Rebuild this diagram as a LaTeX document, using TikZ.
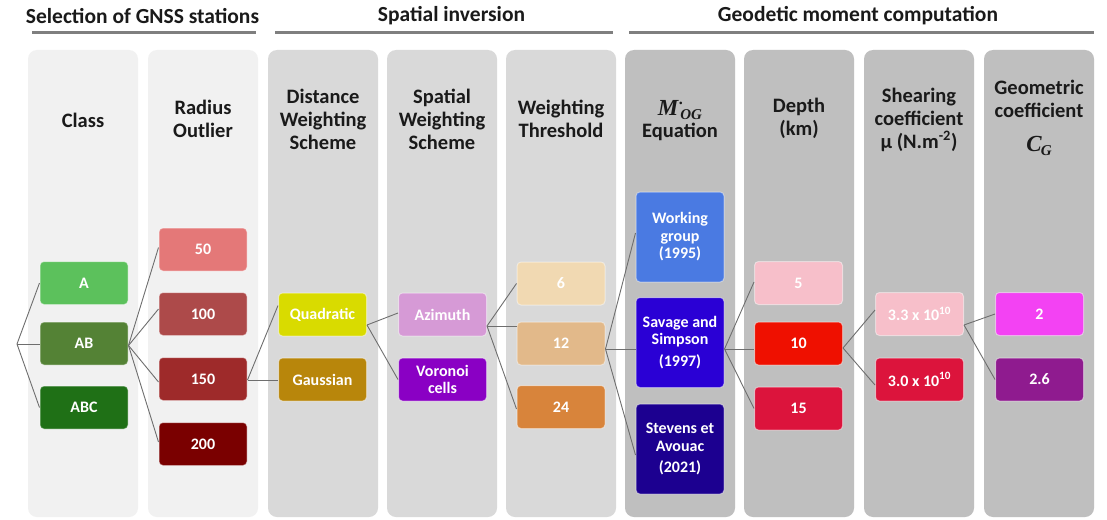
\documentclass[tikz,border=0pt]{standalone}
\usepackage{fontspec}
\setmainfont{Carlito}
\newfontfamily\mserif{Liberation Serif}
\definecolor{pl}{HTML}{F1F1F1}
\definecolor{pm}{HTML}{D9D9D9}
\definecolor{pd}{HTML}{BFBFBF}
\definecolor{headc}{HTML}{1A1A1A}
\definecolor{secc}{HTML}{7F7F7F}
\definecolor{linkc}{HTML}{6E6E6E}
\definecolor{cA}{HTML}{5CC15C}
\definecolor{cAB}{HTML}{548235}
\definecolor{cABC}{HTML}{1F7016}
\definecolor{c50}{HTML}{E47878}
\definecolor{c100}{HTML}{AD4A4A}
\definecolor{c150}{HTML}{9E2A2A}
\definecolor{c200}{HTML}{7A0000}
\definecolor{cquad}{HTML}{D9DB00}
\definecolor{cgauss}{HTML}{B8860B}
\definecolor{caz}{HTML}{D69AD6}
\definecolor{cvor}{HTML}{8A00C4}
\definecolor{c6}{HTML}{F1D9B2}
\definecolor{c12}{HTML}{E2B98A}
\definecolor{c24}{HTML}{D8843B}
\definecolor{cwg}{HTML}{4A7AE2}
\definecolor{css}{HTML}{2A00D5}
\definecolor{cst}{HTML}{1C0090}
\definecolor{cpink}{HTML}{F7BFCA}
\definecolor{cred}{HTML}{EF1000}
\definecolor{ccrim}{HTML}{DC143C}
\definecolor{cmag}{HTML}{F342F3}
\definecolor{cpur}{HTML}{8F1B8F}
\newcommand{\subsm}[1]{\raisebox{-4.5pt}{\fontsize{15}{15}\selectfont #1}}
\tikzset{
  panel/.style={rectangle, rounded corners=9pt, draw=none, minimum width=110pt, minimum height=467pt, inner sep=0pt},
  hdr/.style={font=\bfseries\fontsize{21.5}{24}\selectfont, text=headc, align=center, inner sep=0pt},
  colhd/.style={font=\bfseries\fontsize{20.5}{23}\selectfont, text=headc, align=center, inner sep=0pt},
  mathhd/.style={font=\mserif\bfseries\itshape\fontsize{23}{25}\selectfont, text=headc, inner sep=0pt},
  box/.style={rectangle, rounded corners=4pt, minimum width=88pt, minimum height=43pt, inner sep=1pt,
    text=white, font=\bfseries\fontsize{16}{17.5}\selectfont, align=center,
    draw=white, draw opacity=0.45, line width=1pt},
  tall/.style={minimum height=90pt},
  link/.style={draw=linkc, line width=0.9pt},
  secline/.style={draw=secc, line width=3pt},
}
\begin{document}
\begin{tikzpicture}[x=1pt,y=-1pt]
\useasboundingbox (0,0) rectangle (1107,519);
\fill[white] (0,0) rectangle (1107,519);
% panels
\node[panel, fill=pl] (p1) at (83,283.5) {};
\node[panel, fill=pl] (p2) at (203,283.5) {};
\node[panel, fill=pm] (p3) at (323,283.5) {};
\node[panel, fill=pm] (p4) at (442,283.5) {};
\node[panel, fill=pm] (p5) at (561,283.5) {};
\node[panel, fill=pd] (p6) at (680,283.5) {};
\node[panel, fill=pd] (p7) at (799,283.5) {};
\node[panel, fill=pd] (p8) at (919,283.5) {};
\node[panel, fill=pd] (p9) at (1039,283.5) {};
% section headers
\node[hdr] (s1) at (142.5,16) {Selection of GNSS stations};
\node[hdr] (s2) at (451.5,16) {Spatial inversion};
\node[hdr] (s3) at (858,16) {Geodetic moment computation};
\draw[secline] (32,33) -- (256,33);
\draw[secline] (275,33) -- (613,33);
\draw[secline] (629,33) -- (1094,33);
% column headings
\node[colhd] (h1) at (83,120) {Class};
\node[colhd] (h2) at (203,119) {Radius\\Outlier};
\node[colhd] (h3) at (323,119) {Distance\\Weighting\\Scheme};
\node[colhd] (h4) at (442,119) {Spatial\\Weighting\\Scheme};
\node[colhd] (h5) at (561,119) {Weighting\\Threshold};
\node[mathhd] (h6m) at (680,110) {M\kern0.5pt\raisebox{11pt}{\fontsize{16}{16}\selectfont\upshape .}\kern-2.5pt\subsm{OG}};
\node[colhd] (h6) at (680,132) {Equation};
\node[colhd] (h7) at (799,118) {Depth\\(km)};
\node[colhd] (h8) at (919,119.5) {Shearing\\coefficient\\µ (N.m\textsuperscript{-2})};
\node[colhd] (h9) at (1039,98.5) {Geometric\\coefficient};
\node[mathhd] (h9b) at (1039,146) {C\kern-1pt\subsm{G}};
% boxes
\node[box, fill=cA] (A) at (84,283) {A};
\node[box, fill=cAB] (AB) at (84,343.5) {AB};
\node[box, fill=cABC] (ABC) at (84,407.5) {ABC};
\node[box, fill=c50] (r50) at (203,249.5) {50};
\node[box, fill=c100] (r100) at (203,314) {100};
\node[box, fill=c150] (r150) at (203,379) {150};
\node[box, fill=c200] (r200) at (203,444) {200};
\node[box, fill=cquad] (quad) at (322.5,314.5) {Quadratic};
\node[box, fill=cgauss] (gauss) at (322.5,379.5) {Gaussian};
\node[box, fill=caz] (az) at (442.5,314.5) {Azimuth};
\node[box, fill=cvor] (vor) at (442.5,379.5) {Voronoi\\cells};
\node[box, fill=c6] (t6) at (561,283.5) {6};
\node[box, fill=c12] (t12) at (561,343.5) {12};
\node[box, fill=c24] (t24) at (561,407) {24};
\node[box, tall, fill=cwg] (wg) at (680,237) {Working\\group\\(1995)};
\node[box, tall, fill=css] (ss) at (680,342.5) {Savage and\\Simpson\\[4pt](1997)};
\node[box, tall, fill=cst] (st) at (680,449) {Stevens et\\Avouac\\[4pt](2021)};
\node[box, fill=cpink] (d5) at (798.5,283) {5};
\node[box, fill=cred] (d10) at (798.5,343.5) {10};
\node[box, fill=ccrim] (d15) at (798.5,408.5) {15};
\node[box, fill=cpink] (mu1) at (919.5,314) {3.3 x 10\textsuperscript{10}};
\node[box, fill=ccrim] (mu2) at (919.5,379.5) {3.0 x 10\textsuperscript{10}};
\node[box, fill=cmag] (g2) at (1039.5,314) {2};
\node[box, fill=cpur] (g26) at (1039.5,379.5) {2.6};
% connectors
\coordinate (root) at (17,344);
\draw[link] (root) -- (A.west);
\draw[link] (root) -- (root -| AB.west);
\draw[link] (root) -- (ABC.west);
\coordinate (fAB) at ([yshift=-2pt]AB.east);
\draw[link] (fAB) -- ([yshift=2pt]r50.west);
\draw[link] (fAB) -- ([yshift=5pt]r100.west);
\draw[link] (fAB) -- ([yshift=-3pt]r150.west);
\draw[link] (fAB) -- ([yshift=2pt]r200.west);
\coordinate (f150) at ([yshift=-1pt]r150.east);
\draw[link] (f150) -- ([yshift=9pt]quad.west);
\draw[link] (f150) -- (f150 -| gauss.west);
\coordinate (fq) at ([yshift=-10.5pt]quad.east);
\draw[link] (fq) -- ([yshift=1.5pt]az.west);
\draw[link] (fq) -- (vor.west);
\coordinate (faz) at ([yshift=-11.5pt]az.east);
\draw[link] (faz) -- (t6.west);
\draw[link] (faz) -- (faz -| t12.west);
\draw[link] (faz) -- ([yshift=-2pt]t24.west);
\coordinate (f12) at ([yshift=-5.5pt]t12.east);
\draw[link] (f12) -- ([yshift=4pt]wg.west);
\draw[link] (f12) -- (f12 -| ss.west);
\draw[link] (f12) -- ([yshift=-6pt]st.west);
\coordinate (fss) at ([yshift=-6.5pt]ss.east);
\draw[link] (fss) -- ([yshift=1pt]d5.west);
\draw[link] (fss) -- (fss -| d10.west);
\draw[link] (fss) -- (d15.west);
\coordinate (f10) at ([yshift=-4.5pt]d10.east);
\draw[link] (f10) -- ([yshift=4pt]mu1.west);
\draw[link] (f10) -- ([yshift=-5.5pt]mu2.west);
\coordinate (fmu) at ([yshift=-11pt]mu1.east);
\draw[link] (fmu) -- (g2.west);
\draw[link] (fmu) -- (g26.west);
\end{tikzpicture}
\end{document}
